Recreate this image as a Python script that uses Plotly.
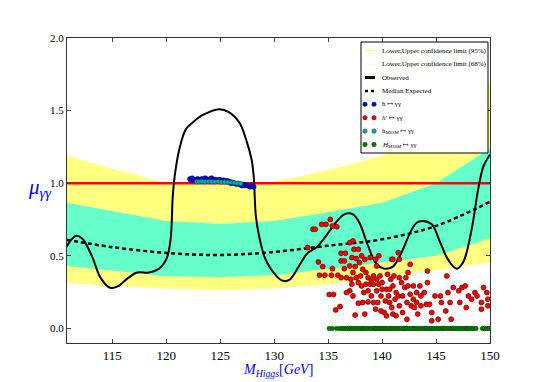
import plotly.graph_objects as go

# ---- data ----
band_x = [110.8, 115, 120, 125, 130, 135, 140, 145, 150]
upper95 = [1.19, 1.10, 1.00, 0.99, 1.01, 1.09, 1.19, 1.40, 1.69]
lower95 = [0.316, 0.29, 0.275, 0.263, 0.275, 0.305, 0.35, 0.40, 0.454]
upper68 = [0.866, 0.81, 0.74, 0.72, 0.74, 0.80, 0.866, 1.00, 1.24]
lower68 = [0.43, 0.40, 0.36, 0.355, 0.367, 0.41, 0.454, 0.50, 0.62]
median_exp = [0.61, 0.56, 0.52, 0.506, 0.527, 0.57, 0.614, 0.706, 0.873]

obs_x = [110.7, 111.6, 112.2, 113.1, 113.9, 114.8, 115.5, 116.5, 117.3, 118.4,
         119.3, 120.0, 120.4, 120.6, 120.8, 121.2, 121.8, 122.4, 123.4, 124.9,
         125.8, 126.8, 127.4, 127.9, 128.1, 128.3, 128.6, 129.2, 130.2, 130.8,
         131.4, 132.3, 133.1, 133.9, 134.8, 135.7, 136.5, 137.3, 137.9, 138.7,
         139.5, 140.2, 141.0, 141.8, 142.6, 143.2, 143.8, 144.6, 145.4, 146.1,
         146.9, 147.5, 148.3, 148.9, 149.4, 150.0]
obs_y = [0.557, 0.637, 0.62, 0.50, 0.35, 0.28, 0.29, 0.35, 0.385, 0.385,
         0.41, 0.476, 0.614, 0.91, 1.06, 1.23, 1.37, 1.415, 1.47, 1.51,
         1.49, 1.415, 1.30, 1.165, 1.05, 0.775, 0.637, 0.476, 0.362, 0.328,
         0.334, 0.43, 0.52, 0.557, 0.637, 0.728, 0.786, 0.786, 0.728, 0.568,
         0.442, 0.412, 0.426, 0.522, 0.66, 0.728, 0.74, 0.717, 0.59, 0.476,
         0.412, 0.454, 0.683, 0.958, 1.118, 1.198]

sm_x = [110.8, 150.0]
sm_y = [1.0, 1.0]

h_x = [122.2, 122.3, 122.5, 122.7, 122.9, 123.1, 123.3, 123.5, 123.7, 123.9,
       124.1, 124.3, 124.5, 124.7, 124.9, 125.1, 125.3, 125.5, 125.7, 125.9,
       126.1, 126.3, 126.5, 126.7, 126.9, 127.1, 127.3, 127.5, 127.7, 127.9,
       128.1, 122.4, 123.6, 124.2, 126.0, 127.0, 127.8]
h_y = [1.03, 1.02, 1.025, 1.02, 1.03, 1.025, 1.03, 1.025, 1.03, 1.025,
       1.03, 1.025, 1.025, 1.02, 1.025, 1.02, 1.02, 1.015, 1.015, 1.01,
       1.005, 1.0, 0.995, 0.995, 0.99, 0.99, 0.985, 0.985, 0.98, 0.98,
       0.975, 1.035, 1.035, 1.035, 1.0, 0.985, 0.975]

hm_x = [122.8, 123.0, 123.3, 123.6, 123.9, 124.2, 124.5, 124.8, 125.1, 125.4,
        125.7, 126.0, 126.3, 126.6, 126.9]
hm_y = [1.01, 1.01, 1.012, 1.01, 1.012, 1.01, 1.01, 1.012, 1.008, 1.008,
        1.006, 1.005, 1.003, 1.0, 0.998]

hp_x = [133.6, 133.8, 134.4, 134.8, 135.2, 135.4, 135.8, 133.1, 134.1, 134.5,
        134.2, 134.7, 135.1, 135.5, 135.3, 135.9, 135.7, 136.1, 135.4, 136.2,
        136.6, 136.2, 136.5, 136.5, 136.2, 136.7, 137.0, 137.3, 137.4, 137.8,
        137.2, 137.6, 137.0, 137.5, 137.3, 137.1, 137.6, 137.2, 137.8, 138.1,
        138.4, 137.9, 138.2, 138.5, 138.1, 138.5, 138.9, 139.2, 138.3, 138.7,
        138.2, 138.7, 139.2, 137.8, 137.5, 138.4, 138.9, 139.4, 139.7, 139.5,
        139.2, 139.8, 139.7, 140.0, 139.5, 139.9, 139.4, 139.9, 140.2, 140.4,
        140.6, 140.3, 140.7, 140.5, 140.8, 140.9, 141.0, 141.5, 141.6, 141.0,
        141.3, 141.2, 141.5, 141.6, 141.0, 141.3, 141.9, 142.3, 141.8, 142.1,
        142.2, 142.4, 142.6, 142.4, 142.6, 142.9, 142.7, 143.0, 143.3, 143.2,
        143.5, 143.6, 143.9, 144.2, 144.2, 144.1, 144.4, 144.6, 144.6, 145.2,
        144.9, 145.4, 145.5, 146.0, 146.1, 146.3, 146.6, 147.1, 147.2, 147.4,
        147.7, 147.8, 148.0, 148.3, 148.6, 148.8, 149.2, 149.4, 149.7, 149.8,
        149.2, 149.8, 146.4, 145.9, 138.0, 138.7, 139.0, 139.5, 140.0, 140.7,
        141.1, 141.6, 141.9, 142.9, 143.2, 143.6, 142.3, 140.9, 140.4, 139.6,
        139.0, 137.0, 137.3, 136.7]
hp_y = [0.683, 0.683, 0.717, 0.717, 0.751, 0.706, 0.70, 0.557, 0.458, 0.426,
        0.367, 0.367, 0.234, 0.234, 0.367, 0.367, 0.128, 0.151, 0.412, 0.518,
        0.518, 0.465, 0.465, 0.412, 0.35, 0.35, 0.591, 0.603, 0.545, 0.545,
        0.488, 0.481, 0.431, 0.426, 0.385, 0.339, 0.35, 0.305, 0.316, 0.50,
        0.476, 0.454, 0.408, 0.385, 0.293, 0.305, 0.305, 0.305, 0.247, 0.259,
        0.179, 0.183, 0.179, 0.174, 0.092, 0.099, 0.488, 0.476, 0.50, 0.431,
        0.362, 0.362, 0.305, 0.316, 0.259, 0.224, 0.133, 0.121, 0.11, 0.27,
        0.224, 0.19, 0.179, 0.373, 0.339, 0.476, 0.476, 0.522, 0.476, 0.293,
        0.247, 0.202, 0.224, 0.156, 0.099, 0.087, 0.11, 0.064, 0.316, 0.282,
        0.35, 0.385, 0.442, 0.293, 0.236, 0.202, 0.156, 0.144, 0.099, 0.179,
        0.293, 0.224, 0.247, 0.396, 0.316, 0.167, 0.167, 0.11, 0.053, 0.064,
        0.224, 0.224, 0.179, 0.362, 0.247, 0.179, 0.282, 0.259, 0.179, 0.282,
        0.293, 0.144, 0.224, 0.202, 0.247, 0.224, 0.179, 0.282, 0.247, 0.156,
        0.133, 0.202, 0.064, 0.121, 0.362, 0.35, 0.328, 0.339, 0.27, 0.27,
        0.362, 0.35, 0.224, 0.293, 0.247, 0.156, 0.179, 0.144, 0.087, 0.179,
        0.224, 0.259, 0.224, 0.247]

H_x = [135.1, 135.4, 135.8, 136.1, 136.3, 136.5, 136.7, 136.9, 137.1, 137.2,
       137.4, 137.6, 137.8, 138.0, 138.2, 138.3, 138.5, 138.7, 138.9, 139.1,
       139.3, 139.4, 139.5, 139.7, 139.8, 140.0, 140.1, 140.3, 140.4, 140.6,
       140.8, 140.9, 141.1, 141.3, 141.4, 141.6, 141.8, 142.0, 142.1, 142.3,
       142.5, 142.7, 142.9, 143.0, 143.2, 143.4, 143.6, 143.8, 144.0, 144.1,
       144.3, 144.5, 144.6, 144.8, 145.0, 145.2, 145.4, 145.6, 145.7, 145.9,
       146.1, 146.3, 146.5, 146.6, 146.8, 147.0, 147.2, 147.4, 147.6, 147.8,
       147.9, 148.1, 148.3, 148.5, 148.7, 149.3, 149.5, 149.7, 149.9]
H_y = [0.0] * len(H_x)

legend_labels = [
    "Lower,Upper confidence limit (95%)",
    "Lower,Upper confidence limit (68%)",
    "Observed",
    "Median Expected",
    "ħ ↦ γγ",
    "<i>h′</i> ↦ γγ",
    "h<sub><i>MSSM</i></sub> ↦ γγ",
    "<i>H<sub>MSSM</sub></i> ↦ γγ",
]

YELLOW = "#ffff80"
AQUA = "#66ffcc"
SERIF = "Liberation Serif, DejaVu Serif, serif"

# the page body has an 8px margin, so the figure is offset by 8px
OFF = 8
W, H = 545 - OFF, 382 - OFF
L, R, T, B = 67 - OFF, 55, 38 - OFF, 39
PW, PH = W - L - R, H - T - B


def px(x):
    # screen pixel -> paper x
    return (x - OFF - L) / PW


def py(y):
    # screen pixel -> paper y
    return (H - B - (y - OFF)) / PH


fig = go.Figure()

# bands
fig.add_trace(go.Scatter(x=band_x, y=lower95, mode="lines", line=dict(width=0),
                         showlegend=False, hoverinfo="skip"))
fig.add_trace(go.Scatter(x=band_x, y=upper95, mode="lines", line=dict(width=0),
                         fill="tonexty", fillcolor=YELLOW, showlegend=False))
fig.add_trace(go.Scatter(x=band_x, y=lower68, mode="lines", line=dict(width=0),
                         showlegend=False, hoverinfo="skip"))
fig.add_trace(go.Scatter(x=band_x, y=upper68, mode="lines", line=dict(width=0),
                         fill="tonexty", fillcolor=AQUA, showlegend=False))

# SM line
fig.add_trace(go.Scatter(x=sm_x, y=sm_y, mode="lines",
                         line=dict(color="red", width=2.5), showlegend=False))

# expected / observed
fig.add_trace(go.Scatter(x=band_x, y=median_exp, mode="lines", line_shape="spline",
                         line=dict(color="black", width=2.5, dash="4px,3px"),
                         showlegend=False))
fig.add_trace(go.Scatter(x=obs_x, y=obs_y, mode="lines", line_shape="spline",
                         line=dict(color="black", width=2), showlegend=False))

# scatter points
fig.add_trace(go.Scatter(x=hp_x, y=hp_y, mode="markers", showlegend=False,
                         marker=dict(color="red", size=5,
                                     line=dict(color="#400000", width=0.6))))
fig.add_trace(go.Scatter(x=H_x, y=H_y, mode="markers", showlegend=False,
                         marker=dict(color="#008000", size=4.5,
                                     line=dict(color="#003000", width=0.5))))
fig.add_trace(go.Scatter(x=h_x, y=h_y, mode="markers", showlegend=False,
                         marker=dict(color="#0000ee", size=5,
                                     line=dict(color="#000040", width=0.5))))
fig.add_trace(go.Scatter(x=hm_x, y=hm_y, mode="markers", showlegend=False,
                         marker=dict(color="#00b0b0", size=4.5,
                                     line=dict(color="#004040", width=0.5))))

# hand-made legend (matplotlib-style, compact)
shapes = [dict(type="rect", xref="paper", yref="paper",
               x0=px(361), x1=px(488), y0=py(153), y1=py(42),
               fillcolor="white", line=dict(color="black", width=1))]
item_y = [50.7, 64.1, 77.5, 90.9, 104.3, 117.7, 131.1, 144.5]
line_styles = [dict(color="#ffff40", width=1), dict(color="#d8fff0", width=1),
               dict(color="black", width=3), dict(color="black", width=2.5, dash="dot")]
for yy, st in zip(item_y[:4], line_styles):
    shapes.append(dict(type="line", xref="paper", yref="paper",
                       x0=px(365), x1=px(375), y0=py(yy), y1=py(yy), line=st))
dot_colors = ["#0000ee", "red", "#00b0b0", "#008000"]
for yy, c in zip(item_y[4:], dot_colors):
    for xx in (365, 374):
        shapes.append(dict(type="circle", xref="paper", yref="paper",
                           xsizemode="pixel", ysizemode="pixel",
                           xanchor=px(xx), yanchor=py(yy),
                           x0=-2.2, x1=2.2, y0=-2.2, y1=2.2,
                           fillcolor=c, line=dict(color="#222", width=0.5)))

annotations = []
for yy, txt in zip(item_y, legend_labels):
    annotations.append(dict(x=px(380), y=py(yy), xref="paper", yref="paper",
                            text=txt, showarrow=False, xanchor="left",
                            yanchor="middle", font=dict(family=SERIF, size=7,
                                                        color="black")))

annotations.append(dict(x=px(40), y=py(188), xref="paper", yref="paper",
                        text="<i>μ</i><sub><i>γγ</i></sub>", showarrow=False,
                        xanchor="center", yanchor="middle",
                        font=dict(family=SERIF, size=21, color="blue")))
annotations.append(dict(x=px(278), y=py(370), xref="paper", yref="paper",
                        text="<i>M<sub>Higgs</sub></i>[<i>GeV</i>]", showarrow=False,
                        xanchor="center", yanchor="middle",
                        font=dict(family=SERIF, size=14, color="blue")))

fig.update_layout(
    width=W, height=H,
    margin=dict(l=L, r=R, t=T, b=B),
    paper_bgcolor="white", plot_bgcolor="white",
    shapes=shapes, annotations=annotations,
    showlegend=False,
)
fig.update_xaxes(range=[110.8, 150], tickvals=[115, 120, 125, 130, 135, 140, 145, 150],
                 ticks="inside", ticklen=4, showline=True, mirror="ticks",
                 linecolor="#333", linewidth=1, showgrid=False, zeroline=False,
                 tickfont=dict(family=SERIF, size=13, color="black"))
fig.update_yaxes(range=[-0.1, 2.0], tickvals=[0, 0.5, 1.0, 1.5, 2.0], tickformat=".1f",
                 ticks="inside", ticklen=4, showline=True, mirror="ticks",
                 linecolor="#333", linewidth=1, showgrid=False, zeroline=False,
                 tickfont=dict(family=SERIF, size=11, color="black"))

fig.write_html("out.html")
